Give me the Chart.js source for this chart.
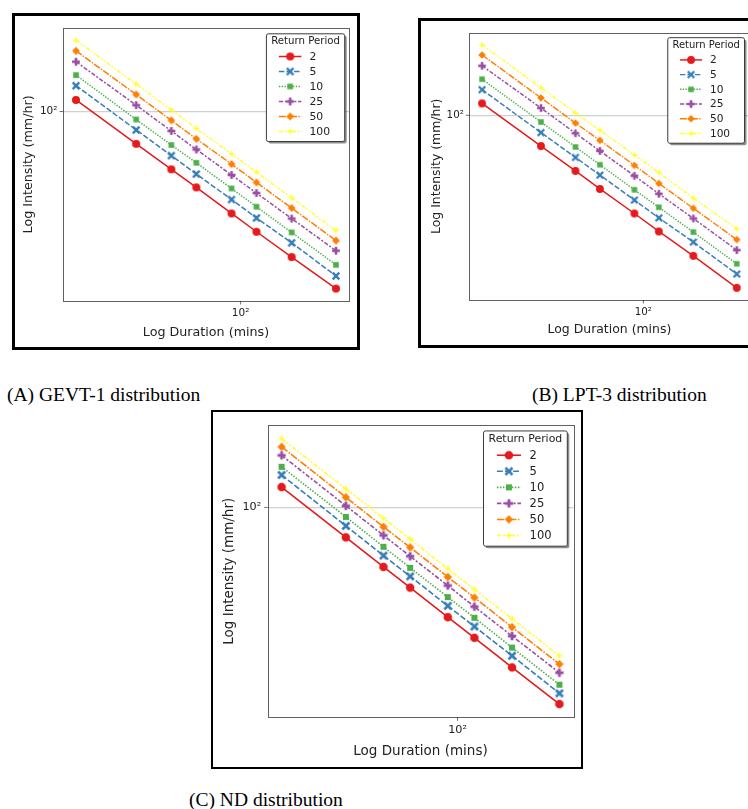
<!DOCTYPE html>
<html><head><meta charset="utf-8">
<script src="https://cdn.jsdelivr.net/npm/chart.js@4.4.0/dist/chart.umd.min.js"></script>
<style>
html,body{margin:0;padding:0;background:#fff;overflow:hidden;width:748px;height:809px;position:relative;}
.frame{position:absolute;border:3px solid #000;box-sizing:border-box;}
.cv{position:absolute;}
.cap{position:absolute;font-family:"Liberation Serif","Times New Roman",serif;font-size:19.5px;line-height:20px;color:#000;white-space:nowrap;}
</style></head><body>
<div class="frame" style="left:12px;top:13px;width:348px;height:337px"></div>
<canvas id="cA" class="cv" style="left:15px;top:16px" width="342" height="331"></canvas>
<div class="frame" style="left:418px;top:18px;width:400px;height:330px"></div>
<canvas id="cB" class="cv" style="left:421px;top:21px" width="336" height="324"></canvas>
<div class="frame" style="left:211px;top:410px;width:372px;height:359px;border-width:2px"></div>
<canvas id="cC" class="cv" style="left:213px;top:412px" width="368" height="355"></canvas>
<div class="cap" style="left:7px;top:385px">(A) GEVT-1 distribution</div>
<div class="cap" style="left:532px;top:385px">(B) LPT-3 distribution</div>
<div class="cap" style="left:189px;top:790px">(C) ND distribution</div>
<script>
// ---------- data ----------
const durations = [15, 30, 45, 60, 90, 120, 180, 300];
const returnPeriods = ['2', '5', '10', '25', '50', '100'];
const xTickValues = [20, 30, 40, 50, 60, 70, 80, 90, 100, 200, 300];
const yTickValues = [20, 30, 40, 50, 60, 70, 80, 90, 100, 200];
const majorTickValues = [100];
const majorTickLabels = ['10²'];
const legendTitle = 'Return Period';
const xTitle = 'Log Duration (mins)';
const yTitle = 'Log Intensity (mm/hr)';

// (A) GEVT-1
const gevt_2   = [113.0, 71.2, 54.4, 45.0, 34.2, 28.2, 21.6, 15.5];
const gevt_5   = [131.3, 82.4, 62.9, 51.8, 39.6, 32.6, 25.1, 17.7];
const gevt_10  = [146.8, 92.0, 70.3, 58.3, 44.5, 36.7, 28.0, 19.9];
const gevt_25  = [169.0, 107.0, 81.5, 67.1, 51.3, 42.4, 32.4, 23.1];
const gevt_50  = [189.5, 119.7, 91.1, 75.0, 57.5, 47.4, 36.2, 25.7];
const gevt_100 = [212.0, 133.7, 101.7, 83.8, 64.0, 52.9, 40.3, 28.6];
// (B) LPT-3
const lpt_2   = [113.6, 71.7, 54.8, 45.1, 34.6, 28.5, 21.9, 15.5];
const lpt_5   = [131.8, 82.9, 63.4, 52.4, 40.0, 33.0, 25.4, 18.0];
const lpt_10  = [147.6, 92.9, 71.0, 58.6, 44.7, 37.0, 28.3, 20.1];
const lpt_25  = [170.6, 108.1, 82.3, 68.0, 52.0, 42.8, 32.8, 23.3];
const lpt_50  = [191.7, 120.6, 91.9, 76.2, 58.2, 47.9, 36.6, 26.1];
const lpt_100 = [213.9, 134.6, 102.5, 85.0, 65.2, 53.8, 40.9, 29.3];
// (C) ND
const nd_2   = [120.5, 76.1, 58.1, 48.1, 36.7, 30.4, 23.2, 16.6];
const nd_5   = [134.5, 84.5, 64.4, 53.3, 40.7, 33.7, 25.8, 18.3];
const nd_10  = [145.0, 91.7, 69.8, 57.6, 44.1, 36.5, 27.8, 19.8];
const nd_25  = [161.0, 101.5, 77.5, 64.0, 49.0, 40.4, 30.9, 22.1];
const nd_50  = [174.0, 109.7, 83.8, 69.4, 53.0, 43.9, 33.5, 23.9];
const nd_100 = [187.7, 118.6, 90.6, 75.0, 57.1, 47.3, 36.2, 25.8];

// ---------- styles ----------
const colors = ['#e41a1c', '#377eb8', '#4daf4a', '#984ea3', '#ff7f00', '#ffff33'];
const markerKinds = ['o', 'X', 's', 'P', 'D', 'star4'];
const dashes = [[], [5.5, 2.1], [1.4, 1.4], [4.2, 1.7, 2, 1.7], [7, 1.4, 1.4, 1.4], [4.2, 1.7, 1.7, 1.7, 1.7, 1.7]];
const FONT = '"DejaVu Sans", sans-serif';

function makeMarker(kind, color, s) {
  const N = 16, c = document.createElement('canvas');
  c.width = N; c.height = N;
  const g = c.getContext('2d');
  g.translate(N / 2, N / 2); g.scale(s, s);
  g.fillStyle = color; g.strokeStyle = color;
  if (kind === 'o') { g.beginPath(); g.arc(0, 0, 4.0, 0, Math.PI * 2); g.fill(); }
  else if (kind === 'X') { g.lineWidth = 2.4; g.beginPath(); g.moveTo(-3.3, -3.3); g.lineTo(3.3, 3.3); g.moveTo(3.3, -3.3); g.lineTo(-3.3, 3.3); g.stroke(); }
  else if (kind === 's') { g.fillRect(-2.8, -2.8, 5.6, 5.6); }
  else if (kind === 'P') { g.fillRect(-1.3, -3.9, 2.6, 7.8); g.fillRect(-3.9, -1.3, 7.8, 2.6); }
  else if (kind === 'D') { g.beginPath(); g.moveTo(0, -3.9); g.lineTo(3.9, 0); g.lineTo(0, 3.9); g.lineTo(-3.9, 0); g.closePath(); g.fill(); }
  else if (kind === 'star4') {
    g.beginPath();
    for (let i = 0; i < 8; i++) {
      const a = -Math.PI / 2 + i * Math.PI / 4, r = i % 2 === 0 ? 4.0 : 1.35;
      const px = r * Math.cos(a), py = r * Math.sin(a);
      i === 0 ? g.moveTo(px, py) : g.lineTo(px, py);
    }
    g.closePath(); g.fill();
  }
  return c;
}

function logRange(vals) {
  const lo = Math.log10(Math.min(...vals)), hi = Math.log10(Math.max(...vals));
  const m = (hi - lo) * 0.05;
  return [Math.pow(10, lo - m), Math.pow(10, hi + m)];
}

const framePlugin = {
  id: 'mplFrame',
  afterDraw(chart) {
    const ctx = chart.ctx, ca = chart.chartArea;
    ctx.save();
    ctx.strokeStyle = 'rgba(0,0,0,0.62)'; ctx.lineWidth = 1;
    ctx.strokeRect(Math.round(ca.left) + 0.5, Math.round(ca.top) + 0.5, Math.round(ca.right - ca.left), Math.round(ca.bottom - ca.top));
    ctx.strokeStyle = 'rgba(0,0,0,0.7)'; ctx.lineWidth = 0.8;
    const xs = chart.scales.x, ys = chart.scales.y;
    xs.ticks.forEach(t => {
      const p = xs.getPixelForValue(t.value), L = majorTickValues.includes(t.value) ? 3.5 : 2;
      ctx.beginPath(); ctx.moveTo(p, ca.bottom); ctx.lineTo(p, ca.bottom + L); ctx.stroke();
    });
    ys.ticks.forEach(t => {
      const p = ys.getPixelForValue(t.value), L = majorTickValues.includes(t.value) ? 3.5 : 2;
      ctx.beginPath(); ctx.moveTo(ca.left, p); ctx.lineTo(ca.left - L, p); ctx.stroke();
    });
    ctx.restore();
  }
};

function rr(ctx, x, y, w, h, r) {
  ctx.beginPath();
  ctx.moveTo(x + r, y); ctx.lineTo(x + w - r, y); ctx.arcTo(x + w, y, x + w, y + r, r);
  ctx.lineTo(x + w, y + h - r); ctx.arcTo(x + w, y + h, x + w - r, y + h, r);
  ctx.lineTo(x + r, y + h); ctx.arcTo(x, y + h, x, y + h - r, r);
  ctx.lineTo(x, y + r); ctx.arcTo(x, y, x + r, y, r); ctx.closePath();
}

const legendPlugin = {
  id: 'rpLegend',
  afterDraw(chart, args, o) {
    const ctx = chart.ctx, ca = chart.chartArea, s = o.s;
    const w = 78.3 * s, h = 107.7 * s;
    const x0 = ca.right - o.inR - w, y0 = ca.top + o.inT;
    ctx.save();
    ctx.fillStyle = 'rgba(0,0,0,0.45)';
    rr(ctx, x0 + 2, y0 + 2, w, h, 2); ctx.fill();
    ctx.fillStyle = '#fff';
    rr(ctx, x0, y0, w, h, 2); ctx.fill();
    ctx.strokeStyle = '#3a3a3a'; ctx.lineWidth = 1; ctx.stroke();
    ctx.fillStyle = '#222'; ctx.textBaseline = 'middle';
    ctx.textAlign = 'center'; ctx.font = (10.2 * s) + 'px ' + FONT;
    ctx.fillText(legendTitle, x0 + w / 2, y0 + 8 * s);
    chart.data.datasets.forEach((ds, i) => {
      const y = y0 + (22.7 + 15 * i) * s;
      const lx = x0 + 12.5 * s, L = 22.5 * s;
      ctx.strokeStyle = ds.borderColor; ctx.lineWidth = ds.borderWidth;
      ctx.setLineDash(ds.borderDash);
      ctx.beginPath(); ctx.moveTo(lx, y); ctx.lineTo(lx + L, y); ctx.stroke();
      ctx.setLineDash([]);
      const img = ds.pointStyle;
      ctx.drawImage(img, lx + L / 2 - img.width / 2, y - img.height / 2);
      ctx.textAlign = 'left'; ctx.fillStyle = '#222';
      ctx.font = (10.8 * s) + 'px ' + FONT;
      ctx.fillText(ds.label, x0 + 43 * s, y + 0.5);
    });
    ctx.restore();
  }
};

function tickLabel(v) {
  const i = majorTickValues.indexOf(v);
  return i >= 0 ? majorTickLabels[i] : null;
}

function makeChart(id, series, c) {
  const s = c.s;
  const all = [].concat(...series);
  const [ymin, ymax] = logRange(all);
  const [xmin, xmax] = logRange(durations);
  const datasets = series.map((arr, i) => ({
    label: returnPeriods[i],
    data: durations.map((d, j) => ({ x: d, y: arr[j] })),
    borderColor: colors[i],
    backgroundColor: colors[i],
    borderWidth: 1.5 * s,
    borderDash: dashes[i].map(v => v * s),
    pointStyle: makeMarker(markerKinds[i], colors[i], s),
    pointRadius: 4,
    tension: 0,
    fill: false
  }));
  return new Chart(document.getElementById(id), {
    type: 'line',
    data: { datasets },
    plugins: [framePlugin, legendPlugin],
    options: {
      responsive: false,
      animation: false,
      events: [],
      layout: { padding: { top: c.padTop, right: c.padRight, left: 0, bottom: 0 } },
      plugins: {
        legend: { display: false }, tooltip: { enabled: false },
        rpLegend: { s: s, inR: c.legInR, inT: c.legInT }
      },
      scales: {
        x: {
          type: 'logarithmic', min: xmin, max: xmax,
          afterBuildTicks: sc => { sc.ticks = xTickValues.filter(v => v >= xmin && v <= xmax).map(v => ({ value: v, major: majorTickValues.includes(v) })); },
          afterFit: sc => { sc.height = c.xAxisH; },
          ticks: { autoSkip: false, maxRotation: 0, padding: c.xTickPad, color: '#222', font: { family: FONT, size: 10.5 * s }, callback: v => tickLabel(v) },
          grid: { display: false, drawTicks: false },
          border: { display: false },
          title: { display: true, text: xTitle, color: '#222', font: { family: FONT, size: c.labelSize }, padding: { top: 0, bottom: c.xTitlePad } }
        },
        y: {
          type: 'logarithmic', min: ymin, max: ymax,
          afterBuildTicks: sc => { sc.ticks = yTickValues.filter(v => v >= ymin && v <= ymax).map(v => ({ value: v, major: majorTickValues.includes(v) })); },
          afterFit: sc => { sc.width = c.yAxisW; },
          ticks: { autoSkip: false, padding: c.yTickPad, color: '#222', font: { family: FONT, size: 10.5 * s }, callback: v => tickLabel(v) },
          grid: { drawTicks: false, lineWidth: 1.3, color: ctx => (ctx.tick && majorTickValues.includes(ctx.tick.value)) ? '#d0d0d0' : 'rgba(0,0,0,0)' },
          border: { display: false },
          title: { display: true, text: yTitle, color: '#222', font: { family: FONT, size: c.labelSize }, padding: { top: c.yTitlePad, bottom: 0 } }
        }
      }
    }
  });
}

makeChart('cA', [gevt_2, gevt_5, gevt_10, gevt_25, gevt_50, gevt_100], {
  s: 1, yAxisW: 48, xAxisH: 46, padTop: 6, padRight: 8,
  labelSize: 12.7, xTitlePad: 6.4, yTitlePad: 6.4, xTickPad: 6, yTickPad: 5.5,
  legInR: 4.3, legInT: 6
});
makeChart('cB', [lpt_2, lpt_5, lpt_10, lpt_25, lpt_50, lpt_100], {
  s: 0.98, yAxisW: 48.3, xAxisH: 45, padTop: 7.3, padRight: 7.5,
  labelSize: 12.45, xTitlePad: 7.5, yTitlePad: 8.2, xTickPad: 6, yTickPad: 5.5,
  legInR: 5, legInT: 5
});
makeChart('cC', [nd_2, nd_5, nd_10, nd_25, nd_50, nd_100], {
  s: 1.07, yAxisW: 54.7, xAxisH: 49.7, padTop: 8, padRight: 7.7,
  labelSize: 13.5, xTitlePad: 7.2, yTitlePad: 7.9, xTickPad: 6.3, yTickPad: 6.5,
  legInR: 6, legInT: 5.7
});
</script>
</body></html>
